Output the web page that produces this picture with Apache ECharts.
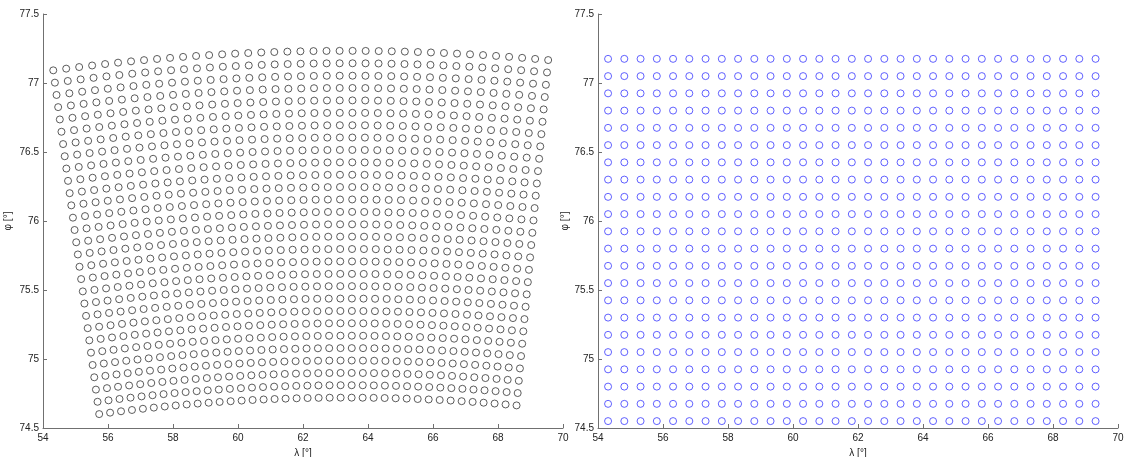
<!DOCTYPE html>
<html><head><meta charset="utf-8">
<script src="https://cdn.jsdelivr.net/npm/echarts@6/dist/echarts.min.js"></script>
<style>html,body{margin:0;padding:0;background:#fff}#c{width:1128px;height:457px}</style>
</head><body><div id="c"></div>
<script>
// ---- data ----
const xTickRange = [54, 70, 2];          // λ axis: min, max, step
const yTickRange = [74.5, 77.5, 0.5];    // φ axis: min, max, step
// Left panel: curvilinear (projected) grid, read as a fan of rings x spokes
const fanCenter = [63.335, 61.193];      // [λ, φ] of the fan's apex (below the plot)
const ringRadius = [13.527, 13.617, 13.706, 13.796, 13.886, 13.976, 14.066, 14.155, 14.245, 14.335,
  14.424, 14.514, 14.604, 14.694, 14.783, 14.873, 14.963, 15.053, 15.142, 15.232,
  15.322, 15.412, 15.501, 15.591, 15.681, 15.771, 15.860, 15.950, 16.040];
const spokeAngle = [-7.610, -7.272, -6.934, -6.596, -6.258, -5.921, -5.583, -5.245, -4.907, -4.569,
  -4.231, -3.893, -3.555, -3.217, -2.880, -2.542, -2.204, -1.866, -1.528, -1.190,
  -0.852, -0.514, -0.176, 0.161, 0.499, 0.837, 1.175, 1.513, 1.851, 2.189,
  2.527, 2.865, 3.202, 3.540, 3.878, 4.216, 4.554, 4.892, 5.230];
// Right panel: regular λ/φ grid
const lonRight = [54.31, 54.81, 55.31, 55.81, 56.31, 56.81, 57.31, 57.81, 58.31, 58.81,
  59.31, 59.81, 60.31, 60.81, 61.31, 61.81, 62.31, 62.81, 63.31, 63.81,
  64.31, 64.81, 65.31, 65.81, 66.31, 66.81, 67.31, 67.81, 68.31, 68.81, 69.31];
const latRight = [74.550, 74.675, 74.800, 74.925, 75.050, 75.175, 75.300, 75.425, 75.550, 75.675,
  75.800, 75.925, 76.050, 76.175, 76.300, 76.425, 76.550, 76.675, 76.800, 76.925,
  77.050, 77.175];
const xName = 'λ [°]';
const yName = 'φ [°]';

// ---- build ----
const leftData = [];
ringRadius.forEach(r => spokeAngle.forEach(a => leftData.push([r, a])));
const rightData = [];
latRight.forEach(la => lonRight.forEach(lo => rightData.push([lo, la])));

const FONT = 'Liberation Sans';
const axisColor = '#707070';
function xAx(gi) {
  return {
    type: 'value', gridIndex: gi, min: xTickRange[0], max: xTickRange[1], interval: xTickRange[2],
    name: xName, nameLocation: 'middle', nameGap: 17,
    nameTextStyle: { fontFamily: FONT, fontSize: 10, color: '#222' },
    axisLine: { show: true, onZero: false, lineStyle: { color: axisColor, width: 1 } },
    axisTick: { show: true, inside: true, length: 4, lineStyle: { color: axisColor } },
    axisLabel: { fontFamily: FONT, fontSize: 10, color: '#222', margin: 5, showMinLabel: true, showMaxLabel: true },
    splitLine: { show: false }
  };
}
function yAx(gi, gap) {
  return {
    type: 'value', gridIndex: gi, min: yTickRange[0], max: yTickRange[1], interval: yTickRange[2],
    name: yName, nameLocation: 'middle', nameGap: gap, nameRotate: 90,
    nameTextStyle: { fontFamily: FONT, fontSize: 10, color: '#222' },
    axisLine: { show: true, onZero: false, lineStyle: { color: axisColor, width: 1 } },
    axisTick: { show: true, inside: true, length: 4, lineStyle: { color: axisColor } },
    axisLabel: { fontFamily: FONT, fontSize: 10, color: '#222', margin: 4, showMinLabel: true, showMaxLabel: true },
    splitLine: { show: false }
  };
}

const chart = echarts.init(document.getElementById('c'), null, { renderer: 'canvas' });
chart.setOption({
  animation: false,
  backgroundColor: '#fff',
  grid: [
    { left: 43, right: 565, top: 14, bottom: 29, containLabel: false, outerBoundsMode: 'none' },
    { left: 598, right: 10, top: 14, bottom: 29, containLabel: false, outerBoundsMode: 'none' }
  ],
  xAxis: [xAx(0), xAx(1)],
  yAxis: [yAx(0, 30), yAx(1, 26)]
});

// place the fan (polar) system using the left panel's own axes
const c = chart.convertToPixel({ xAxisIndex: 0, yAxisIndex: 0 }, fanCenter);
const p0 = chart.convertToPixel({ yAxisIndex: 0 }, yTickRange[0]);
const p1 = chart.convertToPixel({ yAxisIndex: 0 }, yTickRange[1]);
const pxPerUnit = (p0 - p1) / (yTickRange[1] - yTickRange[0]);
const RMAX = 20;
chart.setOption({
  polar: [{ center: [c[0], c[1]], radius: [0, RMAX * pxPerUnit] }],
  radiusAxis: [{ polarIndex: 0, type: 'value', min: 0, max: RMAX, show: false,
    axisLine: { show: false }, axisTick: { show: false }, axisLabel: { show: false }, splitLine: { show: false } }],
  angleAxis: [{ polarIndex: 0, type: 'value', min: -180, max: 180, startAngle: 270, clockwise: true, show: false,
    axisLine: { show: false }, axisTick: { show: false }, axisLabel: { show: false }, splitLine: { show: false } }],
  series: [
    {
      type: 'scatter', xAxisIndex: 1, yAxisIndex: 1, data: rightData,
      symbol: 'circle', symbolSize: 7,
      itemStyle: { color: 'rgba(0,0,0,0)', borderColor: '#3a3aff', borderWidth: 1 }
    },
    {
      type: 'scatter', coordinateSystem: 'polar', polarIndex: 0, data: leftData,
      symbol: 'circle', symbolSize: 7,
      itemStyle: { color: 'rgba(0,0,0,0)', borderColor: '#333', borderWidth: 1 }
    }
  ]
});
</script>
</body></html>
